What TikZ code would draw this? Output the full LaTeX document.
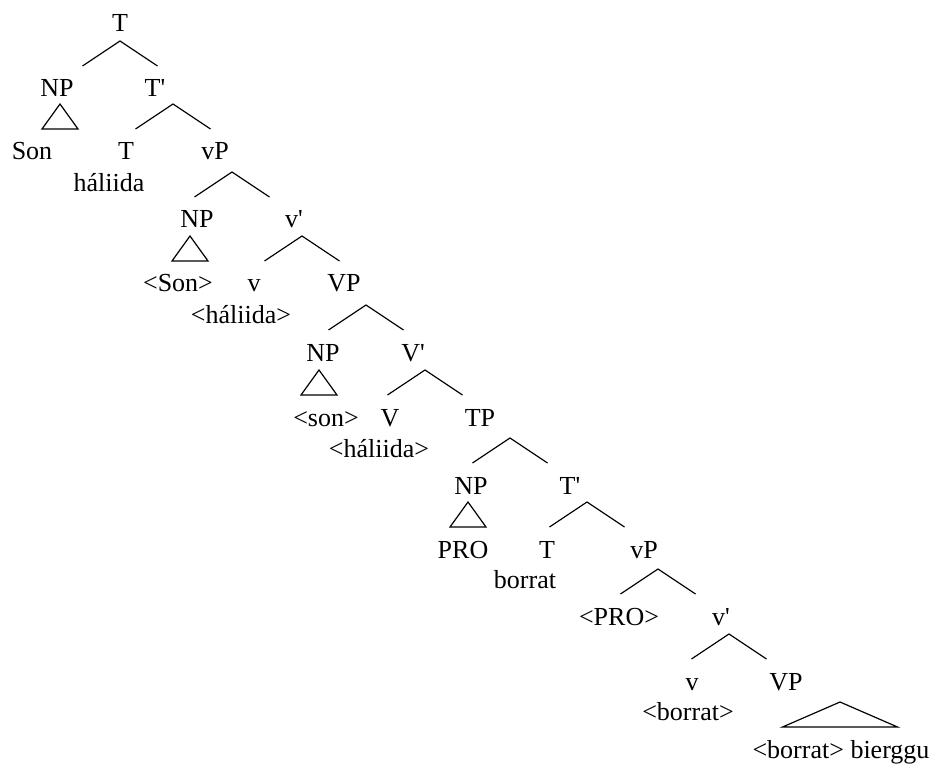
\documentclass[tikz,border=0pt]{standalone}
\usepackage{fontspec}
\setmainfont{Liberation Serif}
\usetikzlibrary{calc}

\begin{document}
\begin{tikzpicture}[x=0.5pt, y=0.5pt, cat/.style={anchor=base, inner sep=0pt, font=\fontsize{13}{15}\selectfont}, line width=0.6pt]
 \useasboundingbox (0,0) rectangle (935,-764);
 \node[cat] (t0) at (120,-32) {T};
 \node[cat] (np1) at (57,-97) {NP};
 \node[cat] (tbar1) at (155,-97) {T\textquotesingle};
 \node[cat] (son1) at (32,-160) {Son};
 \node[cat] (t1) at (126,-160) {T};
 \node[cat] (hal1) at (109,-192) {háliida};
 \node[cat] (vp1) at (215,-160) {vP};
 \node[cat] (np2) at (197,-228) {NP};
 \node[cat] (vbar1) at (294,-228) {v\textquotesingle};
 \node[cat] (son2) at (178,-292) {<Son>};
 \node[cat] (v1) at (254,-292) {v};
 \node[cat] (hal2) at (241,-323) {<háliida>};
 \node[cat] (VP1) at (344,-292) {VP};
 \node[cat] (np3) at (323,-361) {NP};
 \node[cat] (Vbar) at (413,-361) {V\textquotesingle};
 \node[cat] (son3) at (326,-426) {<son>};
 \node[cat] (V) at (390,-426) {V};
 \node[cat] (hal3) at (379,-457) {<háliida>};
 \node[cat] (tp) at (480,-426) {TP};
 \node[cat] (np4) at (471,-494) {NP};
 \node[cat] (tbar2) at (570,-494) {T\textquotesingle};
 \node[cat] (pro1) at (463,-558) {PRO};
 \node[cat] (t2) at (547,-558) {T};
 \node[cat] (bor1) at (525,-588) {borrat};
 \node[cat] (vp2) at (644,-558) {vP};
 \node[cat] (pro2) at (619,-625) {<PRO>};
 \node[cat] (vbar2) at (721,-625) {v\textquotesingle};
 \node[cat] (v2) at (692,-690) {v};
 \node[cat] (bor2) at (688,-720) {<borrat>};
 \node[cat] (VP2) at (786,-690) {VP};
 \node[cat] (bier) at (841,-758) {<borrat> bierggu};
 \foreach \up/\lo/\dx in {t0/np1/0, tbar1/t1/18, vp1/np2/17, vbar1/son2/8, VP1/np3/22, Vbar/son3/12, tp/np4/30, tbar2/pro1/17, vp2/pro2/14, vbar2/v2/8}{
   \coordinate (ap) at ($(\up.base)+(\dx,0)$);
   \draw ($(ap |- \lo.base)+(-37.5,31)$) -- ($(ap |- \lo.base)+(0,56)$) -- ++(37.5,-25);
 }
 \foreach \lf/\dx/\hw in {son1/28/18, son2/12/18, son3/-7/18, pro1/5/18, bier/-1/57.5}{
   \draw ($(\lf.base)+(\dx-\hw,31)$) -- ($(\lf.base)+(\dx,56)$) -- ($(\lf.base)+(\dx+\hw,31)$) -- cycle;
 }
\end{tikzpicture}
\end{document}
